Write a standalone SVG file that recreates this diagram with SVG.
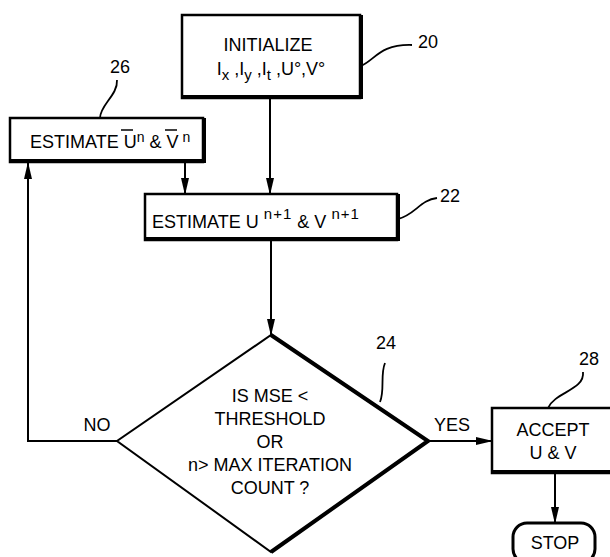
<svg xmlns="http://www.w3.org/2000/svg" width="610" height="557" viewBox="0 0 610 557">
<style>
text{font-family:"Liberation Sans",Arial,sans-serif;fill:#000;font-size:18px}
.c{text-anchor:middle}
.box{fill:#fff;stroke:#000;stroke-width:2.5}
.thick{stroke:#000;stroke-width:4;fill:none}
.conn{stroke:#000;stroke-width:2;fill:none}
.lead{stroke:#000;stroke-width:1.8;fill:none}
.sup{font-size:15px}
.sm{font-size:14px}
</style>
<defs>
<marker id="ah" markerUnits="userSpaceOnUse" markerWidth="17" markerHeight="10" refX="16" refY="5" viewBox="0 0 17 10" orient="auto">
<path d="M0,1 L17,5 L0,9 Z" fill="#000"/>
</marker>
</defs>
<rect width="610" height="557" fill="#fff"/>

<g id="connectors">
<line class="conn" x1="270" y1="99" x2="270" y2="194" marker-end="url(#ah)"/>
<line class="conn" x1="185" y1="163" x2="185" y2="194" marker-end="url(#ah)"/>
<line class="conn" x1="271" y1="241" x2="271" y2="335" marker-end="url(#ah)"/>
<polyline class="conn" points="117,441 28,441 28,163" marker-end="url(#ah)"/>
<line class="conn" x1="428" y1="441" x2="492" y2="441" marker-end="url(#ah)"/>
<line class="conn" x1="555" y1="474" x2="555" y2="523" marker-end="url(#ah)"/>
<text x="97" y="431" class="c">NO</text>
<text x="452" y="431" class="c">YES</text>
</g>

<g id="n20">
<rect class="box" x="182" y="15" width="178" height="83"/>
<polyline class="thick" points="182,97 361,97 361,15"/>
<text x="268" y="51" class="c">INITIALIZE</text>
<text x="271" y="75" class="c">I<tspan class="sup" dy="5">x</tspan><tspan dy="-5"> ,I</tspan><tspan class="sup" dy="5">y</tspan><tspan dy="-5"> ,I</tspan><tspan class="sup" dy="5">t</tspan><tspan dy="-5"> ,U°,V°</tspan></text>
<path class="lead" d="M361,66 C375,60 380,44 412,45"/>
<text x="428" y="48" class="c">20</text>
</g>

<g id="n26">
<rect class="box" x="10" y="118" width="193" height="44"/>
<polyline class="thick" points="10,161 204,161 204,118"/>
<text x="30" y="148">ESTIMATE <tspan>U</tspan><tspan class="sm" dy="-6">n</tspan><tspan dy="6"> &amp; </tspan><tspan>V</tspan><tspan class="sm" dy="-6"> n</tspan></text>
<line stroke="#000" stroke-width="1.5" x1="121" y1="130" x2="133" y2="130"/>
<line stroke="#000" stroke-width="1.5" x1="165" y1="130" x2="177" y2="130"/>
<path class="lead" d="M100,118 C100,105 118,95 117,80"/>
<text x="120" y="73" class="c">26</text>
</g>

<g id="n22">
<rect class="box" x="145" y="194" width="252" height="46"/>
<polyline class="thick" points="145,239 398,239 398,194"/>
<text x="152" y="228">ESTIMATE U<tspan class="sup" dy="-9" letter-spacing="1"> n+1</tspan><tspan dy="9">  &amp; V</tspan><tspan class="sup" dy="-9" letter-spacing="1"> n+1</tspan></text>
<path class="lead" d="M398,219 C415,215 420,200 437,198"/>
<text x="450" y="202" class="c">22</text>
</g>

<g id="n24">
<polygon points="271,335 428,441 271,552 117,441" fill="#fff" stroke="#000" stroke-width="2"/>
<polyline class="thick" points="271,335 428,441 271,552" stroke-width="5"/>
<text x="270" y="402" class="c">IS MSE &lt;</text>
<text x="270" y="425" class="c">THRESHOLD</text>
<text x="270" y="448" class="c">OR</text>
<text x="270" y="471" class="c">n&gt; MAX ITERATION</text>
<text x="270" y="494" class="c">COUNT ?</text>
<path class="lead" d="M380,402 C385,390 380,375 385,363"/>
<text x="386" y="349" class="c">24</text>
</g>

<g id="n28">
<rect class="box" x="492" y="408" width="125" height="65"/>
<line class="thick" x1="492" y1="472" x2="612" y2="472"/>
<text x="553" y="436" class="c">ACCEPT</text>
<text x="553" y="459" class="c">U &amp; V</text>
<path class="lead" d="M548,408 C555,392 585,390 583,372"/>
<text x="589" y="365" class="c">28</text>
</g>

<g id="stop">
<rect x="513" y="523" width="82" height="40" rx="14" fill="#fff" stroke="#000" stroke-width="3"/>
<text x="555" y="549" class="c">STOP</text>
</g>
</svg>
